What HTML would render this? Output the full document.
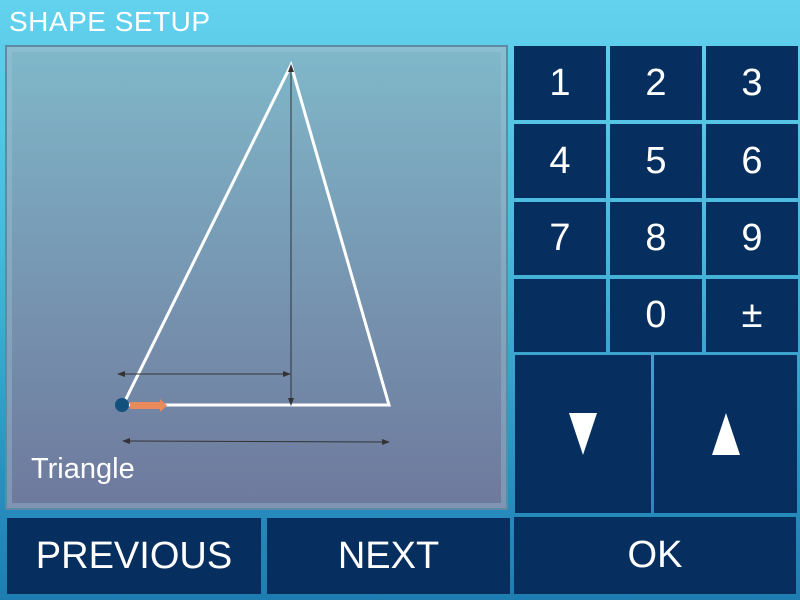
<!DOCTYPE html>
<html><head><meta charset="utf-8"><style>
body{margin:0;width:800px;height:600px;overflow:hidden;font-family:"Liberation Sans",sans-serif}
#bg{position:absolute;left:0;top:0;width:800px;height:600px;background:linear-gradient(180deg,#62d2ee 0%,#4bb8dc 40%,#2a8fc0 80%,#1e7db0 100%)}
.t{position:absolute;color:#fff;font-weight:300}
.btn{position:absolute;background:#062e5e;color:#fff;display:flex;align-items:center;justify-content:center;font-size:38px}
#panel{position:absolute;left:5px;top:45px;width:503px;height:465px;background:linear-gradient(180deg,#80b8ca 0%,#7590ad 60%,#6e799d 100%);border:2px solid #5f8aa3;box-sizing:border-box;box-shadow:inset 0 0 0 5px rgba(160,200,220,0.35)}
</style></head><body>
<div id="bg"></div>
<div class="t" style="left:9px;top:6px;font-size:28px;letter-spacing:0.5px">SHAPE SETUP</div>
<div id="panel"></div>
<svg style="position:absolute;left:0;top:0" width="800" height="600">
<defs><marker id="a" markerWidth="8" markerHeight="8" refX="7" refY="4" orient="auto-start-reverse"><path d="M0,1 L8,4 L0,7z" fill="#333"/></marker></defs>
<polygon points="291,65 123,405 389,405" fill="none" stroke="#fff" stroke-width="3"/>
<line x1="291" y1="65" x2="291" y2="405" stroke="#333" stroke-width="1" marker-start="url(#a)" marker-end="url(#a)"/>
<line x1="118" y1="374" x2="290" y2="374" stroke="#333" stroke-width="1" marker-start="url(#a)" marker-end="url(#a)"/>
<line x1="123" y1="441" x2="389" y2="442" stroke="#333" stroke-width="1" marker-start="url(#a)" marker-end="url(#a)"/>
<path d="M130,402 L160,402 L160,399 L167,405.5 L160,412 L160,409 L130,409z" fill="#e88a5c"/>
<circle cx="122" cy="405" r="7" fill="#12507e"/>
</svg>
<div class="t" style="left:31px;top:453px;font-size:29px">Triangle</div>
<div class="btn" style="left:514px;top:46px;width:92px;height:74px">1</div>
<div class="btn" style="left:610px;top:46px;width:92px;height:74px">2</div>
<div class="btn" style="left:706px;top:46px;width:92px;height:74px">3</div>
<div class="btn" style="left:514px;top:124px;width:92px;height:74px">4</div>
<div class="btn" style="left:610px;top:124px;width:92px;height:74px">5</div>
<div class="btn" style="left:706px;top:124px;width:92px;height:74px">6</div>
<div class="btn" style="left:514px;top:202px;width:92px;height:73px">7</div>
<div class="btn" style="left:610px;top:202px;width:92px;height:73px">8</div>
<div class="btn" style="left:706px;top:202px;width:92px;height:73px">9</div>
<div class="btn" style="left:514px;top:279px;width:92px;height:73px"></div>
<div class="btn" style="left:610px;top:279px;width:92px;height:73px">0</div>
<div class="btn" style="left:706px;top:279px;width:92px;height:73px">±</div>
<div class="btn" style="left:515px;top:355px;width:136px;height:158px"><svg width="30" height="44"><polygon points="1,1 29,1 15,43" fill="#fff"/></svg></div>
<div class="btn" style="left:654px;top:355px;width:143px;height:158px"><svg width="30" height="44"><polygon points="15,1 29,43 1,43" fill="#fff"/></svg></div>
<div class="btn" style="left:7px;top:518px;width:254px;height:76px">PREVIOUS</div>
<div class="btn" style="left:267px;top:518px;width:243px;height:76px">NEXT</div>
<div class="btn" style="left:514px;top:517px;width:282px;height:77px">OK</div>
</body></html>
